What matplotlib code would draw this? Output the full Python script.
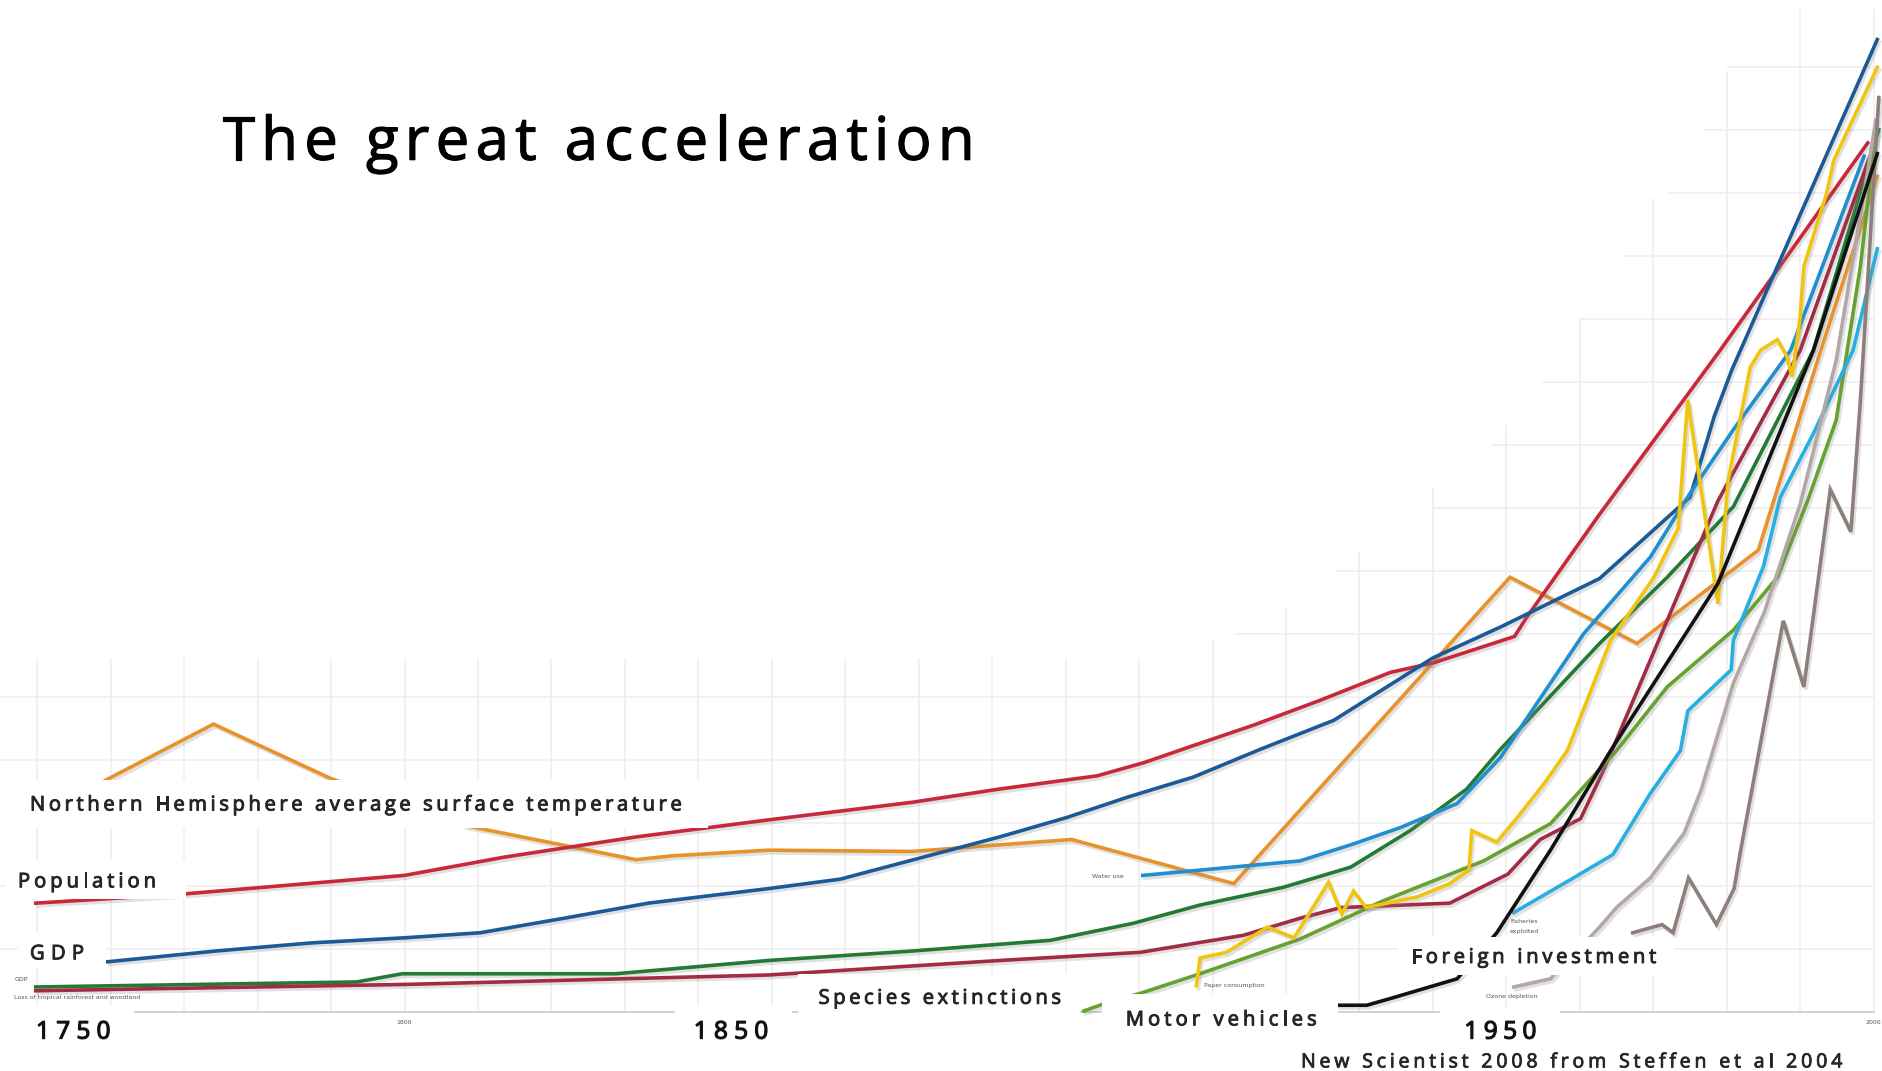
import matplotlib
matplotlib.use("Agg")
import matplotlib.pyplot as plt
import matplotlib.patheffects as pe
from matplotlib.patches import Rectangle

W, H = 1882, 1071
# layout below was measured on a 1568x892 preview of the slide
PW, PH = 1568, 892
S = W / PW

# ---- data: year, index value (gridline every 10 units) ----
pop_year = [1749.8, 1769.4, 1800.0, 1813.6, 1831.5, 1849.5, 1869.1, 1881.0, 1894.3, 1900.7,
            1907.4, 1915.5, 1924.7, 1934.2, 1940.0, 1951.1, 1952.8, 1962.7, 1979.1, 1999.2]
pop = [17.3, 18.7, 21.7, 24.6, 27.8, 30.5, 33.3, 35.4, 37.5, 39.6,
       42.3, 45.5, 49.5, 53.9, 55.4, 59.6, 62.7, 79.0, 105.0, 137.9]

gdp_year = [1759.6, 1774.3, 1787.4, 1800.0, 1810.3, 1821.7, 1833.2, 1849.5, 1859.3, 1881.0,
            1890.2, 1898.4, 1907.4, 1916.5, 1926.5, 1940.0, 1949.2, 1962.7, 1975.0, 1978.3,
            1980.7, 2000.5]
gdp = [8.0, 9.7, 11.0, 11.8, 12.6, 14.9, 17.3, 19.6, 21.1, 27.8,
       30.9, 34.1, 37.3, 41.7, 46.3, 56.2, 61.1, 68.8, 81.7, 94.5,
       101.9, 154.3]

temp_year = [1759.3, 1774.0, 1789.9, 1808.7, 1831.5, 1836.4, 1849.5, 1869.1, 1890.8, 1912.9,
             1950.5, 1967.8, 1984.3, 1992.8, 2000.5]
temp = [36.8, 45.7, 37.1, 29.5, 24.2, 24.8, 25.7, 25.5, 27.4, 20.4,
        69.0, 58.5, 73.3, 105.0, 132.6]

water_year = [1900.5, 1921.9, 1929.2, 1935.6, 1943.3, 1949.2, 1960.5, 1969.6, 1975.0, 1980.9,
              1988.7, 1998.7]
water = [21.7, 24.0, 26.7, 29.3, 33.1, 40.4, 60.0, 72.2, 82.3, 92.4,
         105.0, 135.8]

forest_year = [1749.8, 1793.5, 1799.7, 1828.8, 1849.5, 1869.1, 1887.9, 1899.2, 1908.3, 1919.6,
               1928.8, 1936.9, 1944.6, 1949.2, 1962.7, 1971.9, 1980.9, 1991.8, 2000.7]
forest = [4.0, 4.8, 6.1, 6.1, 8.2, 9.7, 11.4, 14.1, 17.0, 19.8,
          23.0, 28.8, 35.4, 41.7, 58.5, 69.0, 80.2, 105.0, 140.0]

species_year = [1749.8, 1800.0, 1849.5, 1881.0, 1900.2, 1914.2, 1921.9, 1927.5, 1942.3, 1950.2,
                1954.6, 1960.1, 1963.2, 1978.8, 1990.0, 1999.8]
species = [3.4, 4.4, 5.9, 8.2, 9.5, 12.2, 14.9, 16.6, 17.3, 21.9,
           27.4, 30.7, 38.3, 81.1, 105.0, 136.8]

paper_year = [1907.8, 1908.3, 1911.9, 1917.5, 1921.1, 1925.8, 1927.6, 1929.2, 1930.9, 1937.9,
              1942.3, 1944.9, 1945.3, 1948.7, 1951.5, 1955.1, 1958.3, 1964.2, 1970.1, 1973.4,
              1974.7, 1978.8, 1980.2, 1983.2, 1984.6, 1986.9, 1988.2, 1988.9, 1990.0, 1990.5,
              1993.6, 1994.6, 2000.5]
paper = [4.2, 8.6, 9.5, 13.5, 11.8, 20.6, 15.6, 19.2, 16.6, 18.3,
         20.4, 22.5, 28.8, 27.0, 30.9, 36.2, 41.5, 59.0, 69.0, 76.8,
         97.1, 64.8, 84.4, 102.3, 105.0, 106.7, 104.0, 100.8, 110.3, 118.3,
         129.9, 135.2, 149.9]

motor_year = [1892.5, 1895.6, 1900.2, 1908.3, 1921.9, 1933.3, 1946.9, 1956.0, 1965.0, 1971.9,
              1980.9, 1986.9, 1991.0, 1994.9, 1998.2, 2000.2]
motor = [0.2, 1.5, 3.0, 6.1, 11.6, 17.7, 24.0, 29.9, 41.5, 51.6,
         60.6, 69.0, 81.1, 93.9, 118.3, 138.7]

foreign_year = [1927.1, 1931.0, 1934.6, 1943.3, 1948.7, 1956.0, 1964.2, 1978.8, 1991.8, 2000.5]
foreign = [1.1, 1.1, 2.3, 5.3, 12.6, 25.7, 41.5, 68.0, 105.0, 136.2]

fish_year = [1951.0, 1958.7, 1964.5, 1969.6, 1973.7, 1974.7, 1980.6, 1980.9, 1985.0, 1987.3,
             1991.8, 1997.2, 2000.5]
fish = [15.8, 21.0, 25.0, 34.7, 41.5, 47.8, 54.3, 59.0, 70.7, 81.7,
        91.8, 105.0, 121.1]

ozone_year = [1951.0, 1956.0, 1962.7, 1965.0, 1969.6, 1974.2, 1976.5, 1980.9, 1985.1, 1990.0,
              1994.9, 1999.0, 2000.3]
ozone = [4.0, 5.3, 13.5, 16.6, 21.3, 28.4, 35.2, 52.2, 63.4, 80.6,
         103.4, 132.0, 141.5]

floods_year = [1967.2, 1971.2, 1972.7, 1974.8, 1978.6, 1981.0, 1981.9, 1987.7, 1990.5, 1994.1,
               1996.9, 1998.2, 2000.7]
floods = [12.6, 13.9, 12.6, 21.3, 13.9, 19.6, 25.7, 62.1, 51.6, 82.9,
          76.2, 97.1, 145.1]

# faded background grid of the original chart (stepped towards the top right)
grid_years = list(range(1750, 2001, 10))
grid_tops = [56] * 16 + [59, 64, 73, 83, 93, 110, 129, 149, 159, 159]
grid_levels = list(range(10, 151, 10))
grid_starts = [1745] * 5 + [1913, 1927, 1940, 1948, 1955, 1960, 1966, 1972, 1977, 1980]

fig = plt.figure(figsize=(W / 100, H / 100), dpi=100)
ax = fig.add_axes([0, 0, 1, 1])
ax.set_xlim(1744.93, 2001.14)
ax.set_ylim(-9.33, 160.57)
ax.axis("off")

for yr, top in zip(grid_years, grid_tops):
    ax.plot([yr, yr], [0, top], color="#efefef", lw=1.2, zorder=1)
for lv, st in zip(grid_levels, grid_starts):
    ax.plot([st, 2000], [lv, lv], color="#efefef", lw=1.2, zorder=1)
ax.plot([1759, 2000], [0, 0], color="#c9c9c9", lw=1.2, zorder=1)

shadow = [pe.SimpleLineShadow(offset=(1.5, -2), shadow_color="#888888", alpha=0.25), pe.Normal()]
series = [
    (temp_year, temp, "#e8922c"),
    (pop_year, pop, "#c8283a"),
    (gdp_year, gdp, "#1b5a96"),
    (forest_year, forest, "#237a35"),
    (species_year, species, "#a32c45"),
    (water_year, water, "#1f8fcf"),
    (motor_year, motor, "#67a12f"),
    (paper_year, paper, "#f1c40f"),
    (fish_year, fish, "#27aee3"),
    (ozone_year, ozone, "#b3a8a6"),
    (floods_year, floods, "#8e7f7a"),
    (foreign_year, foreign, "#111111"),
]
for xs, ys, c in series:
    ax.plot(xs, ys, color=c, lw=2.6, solid_joinstyle="miter", zorder=3, path_effects=shadow)

# white label boxes pasted over the chart (preview px: x0, y0, x1, y1)
boxes = [(0, 650, 590, 690), (5, 716, 155, 749), (15, 776, 88, 806),
         (665, 811, 900, 845), (918, 828, 1115, 868), (1165, 780, 1395, 812),
         (0, 838, 112, 878), (562, 838, 660, 878), (1200, 840, 1300, 878)]
for x0, y0, x1, y1 in boxes:
    fig.add_artist(Rectangle((x0 / PW, 1 - y1 / PH), (x1 - x0) / PW, (y1 - y0) / PH,
                             transform=fig.transFigure, fc="white", ec="none", zorder=5))

renderer = fig.canvas.get_renderer()


def text_w(s, size, **kw):
    t = fig.text(0, 0, s, fontsize=size, **kw)
    w = t.get_window_extent(renderer).width
    t.remove()
    return w


def tracked(x, y, s, size, width, heavy=0.0, **kw):
    # letter-spaced label: spread the characters over the measured width
    full = text_w(s, size, **kw)
    xw = text_w("x", size, **kw)
    track = (width * S - full) / (len(s) - 1)
    fx = [pe.withStroke(linewidth=heavy, foreground=kw.get("color", "k"))] if heavy else None
    for i, ch in enumerate(s):
        if ch == " ":
            continue
        off = text_w(s[:i] + "x", size, **kw) - xw if i else 0
        fig.text((x * S + off + i * track) / W, 1 - y / PH, ch, fontsize=size,
                 va="baseline", zorder=6, path_effects=fx, **kw)


lab = dict(family="Open Sans", color="#262626")
tracked(25, 675, "Northern Hemisphere average surface temperature", 14.5, 543, heavy=0.7, **lab)
tracked(15, 739, "Population", 14.5, 115, heavy=0.7, **lab)
tracked(25, 799, "GDP", 14.5, 45, heavy=0.7, **lab)
tracked(682, 836, "Species extinctions", 14.5, 202, heavy=0.7, **lab)
tracked(938, 854, "Motor vehicles", 14.5, 159, heavy=0.7, **lab)
tracked(1176, 802, "Foreign investment", 14.5, 204, heavy=0.7, **lab)
tracked(1084, 889, "New Scientist 2008 from Steffen et al 2004", 14, 451, heavy=0.6, **lab)

yr = dict(family="Open Sans", color="#111111")
tracked(30, 865, "1750", 17.5, 62, heavy=0.9, **yr)
tracked(578, 865, "1850", 17.5, 62, heavy=0.9, **yr)
tracked(1220, 865, "1950", 17.5, 60, heavy=0.9, **yr)

tracked(185, 133, "The great acceleration", 43, 627, heavy=0.9, family="Open Sans", color="#000000")

small = dict(family="DejaVu Sans", fontsize=4.5, color="#555555", zorder=6)
fig.text(12 / PW, 1 - 817 / PH, "GDP", **small)
fig.text(12 / PW, 1 - 832 / PH, "Loss of tropical rainforest and woodland", **small)
fig.text(337 / PW, 1 - 853 / PH, "1800", ha="center", **small)
fig.text(1561 / PW, 1 - 853 / PH, "2000", ha="center", **small)
fig.text(910 / PW, 1 - 731 / PH, "Water use", **small)
fig.text(1003 / PW, 1 - 822 / PH, "Paper consumption", **small)
fig.text(1238 / PW, 1 - 831 / PH, "Ozone depletion", **small)
fig.text(1258 / PW, 1 - 769 / PH, "Fisheries", **small)
fig.text(1258 / PW, 1 - 777 / PH, "exploited", **small)

fig.savefig("out.png", dpi=100)
